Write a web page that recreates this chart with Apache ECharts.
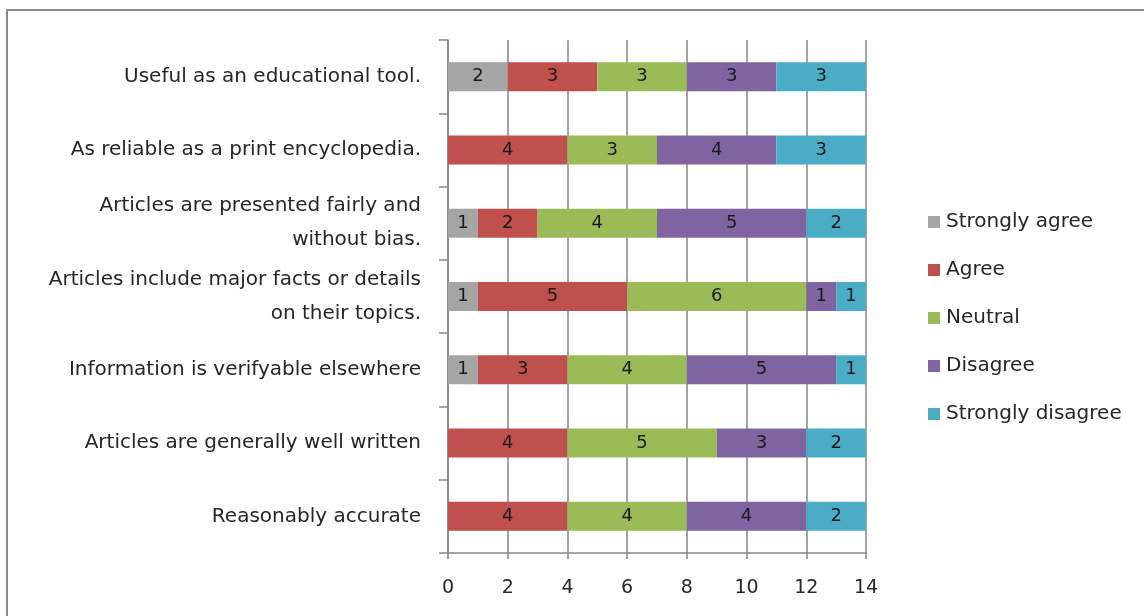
<!DOCTYPE html>
<html>
<head>
<meta charset="utf-8">
<script src="https://cdn.jsdelivr.net/npm/echarts@6/dist/echarts.min.js"></script>
<style>html,body{margin:0;padding:0;background:#fff}#c{width:1144px;height:616px}</style>
</head>
<body>
<div id="c"></div>
<script>
const categories = [
  "Useful as an educational tool.",
  "As reliable as a print encyclopedia.",
  "Articles are presented fairly and\nwithout bias.",
  "Articles include major facts or details\non their topics.",
  "Information is verifyable elsewhere",
  "Articles are generally well written",
  "Reasonably accurate"
];
const seriesNames = ["Strongly agree", "Agree", "Neutral", "Disagree", "Strongly disagree"];
const stronglyAgree = [2, 0, 1, 1, 1, 0, 0];
const agree = [3, 4, 2, 5, 3, 4, 4];
const neutral = [3, 3, 4, 6, 4, 5, 4];
const disagree = [3, 4, 5, 1, 5, 3, 4];
const stronglyDisagree = [3, 3, 2, 1, 1, 2, 2];
const xTicks = [0, 2, 4, 6, 8, 10, 12, 14];

const colors = ["#A5A5A5", "#C0504D", "#9BBB59", "#8064A2", "#4BACC6"];
const values = [stronglyAgree, agree, neutral, disagree, stronglyDisagree];
const font = "DejaVu Sans";

const chart = echarts.init(document.getElementById('c'));
chart.setOption({
  animation: false,
  textStyle: { fontFamily: font },
  graphic: [{
    type: 'rect', shape: { x: 7, y: 10, width: 1300, height: 800 },
    style: { fill: 'none', stroke: '#878787', lineWidth: 2 }, silent: true
  }],
  grid: { left: 448, right: 278, top: 40, bottom: 63, containLabel: false },
  legend: {
    orient: 'vertical', left: 923, top: 207,
    itemWidth: 12, itemHeight: 12, itemGap: 28,
    icon: 'rect',
    textStyle: { fontSize: 20, color: '#262626', fontFamily: font, padding: [0, 0, 0, 1] },
    data: seriesNames
  },
  xAxis: {
    type: 'value', min: xTicks[0], max: xTicks[xTicks.length - 1], interval: 2,
    axisLine: { show: true, lineStyle: { color: '#868686', width: 1.5 } },
    axisTick: { show: true, length: 6, lineStyle: { color: '#868686', width: 1.5 } },
    splitLine: { show: true, lineStyle: { color: '#868686', width: 1.5 } },
    axisLabel: { fontSize: 19, color: '#262626', margin: 26 }
  },
  yAxis: {
    type: 'category', data: categories, inverse: true,
    axisLine: { show: true, lineStyle: { color: '#868686', width: 1.5 } },
    axisTick: { show: true, length: 9, lineStyle: { color: '#868686', width: 1.5 } },
    axisLabel: { fontSize: 20, color: '#262626', margin: 27, lineHeight: 34, align: 'right' }
  },
  series: seriesNames.map((name, i) => ({
    name, type: 'bar', stack: 'total', barWidth: 29,
    itemStyle: { color: colors[i] },
    label: {
      show: true, position: 'inside', color: '#1a1a1a', fontSize: 18,
      formatter: p => p.value === 0 ? '' : String(p.value)
    },
    data: values[i]
  }))
});
</script>
</body>
</html>
